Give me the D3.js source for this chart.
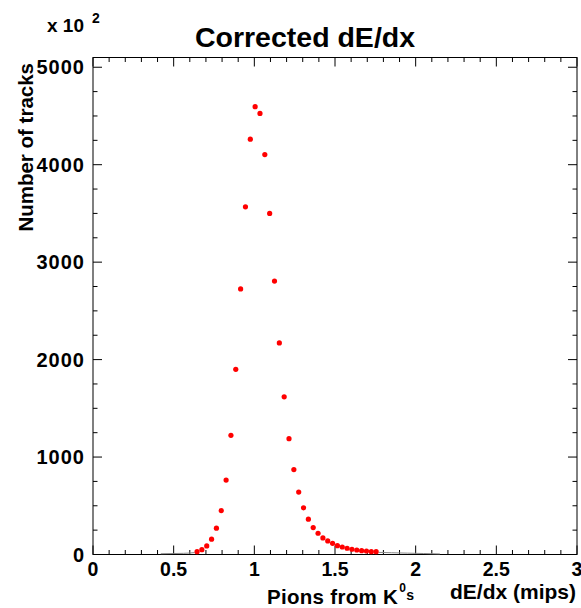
<!DOCTYPE html>
<html>
<head>
<meta charset="utf-8">
<script src="https://cdn.jsdelivr.net/npm/d3@7"></script>
<style>
  body { margin: 0; background: white; }
  text { font-family: "Liberation Sans", Arial, Helvetica, sans-serif; font-weight: bold; fill: black; }
</style>
</head>
<body>
<div id="chart"></div>
<script>
// bin centres (dE/dx, mips) and counts (x 10^2)
const binStart = 0.645;
const binWidth = 0.03;
const counts = [29, 49, 88, 157, 270, 451, 764, 1223, 1900, 2725,
                3568, 4262, 4595, 4526, 4104, 3500, 2806, 2171, 1618, 1189,
                871, 641, 479, 363, 276, 218, 170, 139, 115, 91,
                77, 64, 54, 46, 39, 36, 29, 29];
// faint histogram line in the tails
const tailLeftX = [0.42, 0.5, 0.56, 0.6, 0.63];
const tailLeftY = [8, 10, 12, 15, 20];
const tailRightX = [1.77, 1.85, 1.95, 2.05, 2.15];
const tailRightY = [22, 18, 14, 10, 6];

const xTicks = [0, 0.5, 1, 1.5, 2, 2.5, 3];
const xTickLabels = ["0", "0.5", "1", "1.5", "2", "2.5", "3"];
const yTicks = [0, 1000, 2000, 3000, 4000, 5000];

const W = 581, H = 608;
const pLeft = 93, pRight = 577, pTop = 57.5, pBottom = 554.5;

const svg = d3.select("#chart").append("svg")
    .attr("width", W)
    .attr("height", H);

const x = d3.scaleLinear().domain([0, 3]).range([pLeft, pRight]);
const y = d3.scaleLinear().domain([0, 5100]).range([pBottom, pTop]);

let points = counts.map((c, i) => ({ x: binStart + i * binWidth, y: c }));

// frame
svg.append("rect")
    .attr("x", pLeft).attr("y", pTop)
    .attr("width", pRight - pLeft).attr("height", pBottom - pTop)
    .attr("fill", "none").attr("stroke", "black").attr("stroke-width", 1);

// ticks on all four sides, pointing inward
let xMinor = d3.range(0, 3.0001, 0.1);
let yMinor = d3.range(0, 5001, 250);
const major = 9, minor = 4.5;

let tickG = svg.append("g").attr("stroke", "black").attr("stroke-width", 1);
for (let v of xMinor) {
    let isMajor = Math.abs(v * 2 - Math.round(v * 2)) < 1e-6;
    let len = isMajor ? major : minor;
    let px = x(v);
    tickG.append("line").attr("x1", px).attr("x2", px).attr("y1", pBottom).attr("y2", pBottom - len);
    tickG.append("line").attr("x1", px).attr("x2", px).attr("y1", pTop).attr("y2", pTop + len);
}
for (let v of yMinor) {
    let len = (v % 1000 == 0) ? major : minor;
    let py = y(v);
    tickG.append("line").attr("y1", py).attr("y2", py).attr("x1", pLeft).attr("x2", pLeft + len);
    tickG.append("line").attr("y1", py).attr("y2", py).attr("x1", pRight).attr("x2", pRight - len);
}

// tick labels
svg.append("g").selectAll("text")
    .data(xTicks)
    .enter()
    .append("text")
    .attr("x", d => x(d))
    .attr("y", 576)
    .attr("text-anchor", "middle")
    .style("font-size", "19.5px")
    .text((d, i) => xTickLabels[i]);

svg.append("g").selectAll("text")
    .data(yTicks)
    .enter()
    .append("text")
    .attr("x", 85)
    .attr("y", d => y(d) + 7)
    .attr("text-anchor", "end")
    .style("font-size", "20px")
    .style("letter-spacing", "1px")
    .text(d => d);

// tails
let line = d3.line().x(d => x(d[0])).y(d => y(d[1]));
for (let [xs, ys] of [[tailLeftX, tailLeftY], [tailRightX, tailRightY]]) {
    svg.append("path")
        .attr("d", line(xs.map((v, i) => [v, ys[i]])))
        .attr("fill", "none")
        .attr("stroke", "#888")
        .attr("stroke-width", 1);
}

// markers
svg.append("g").selectAll("circle")
    .data(points)
    .enter()
    .append("circle")
    .attr("cx", d => x(d.x))
    .attr("cy", d => y(d.y))
    .attr("r", 2.6)
    .attr("fill", "red");

// titles
svg.append("text")
    .attr("x", 305).attr("y", 47)
    .attr("text-anchor", "middle")
    .style("font-size", "28.5px")
    .text("Corrected dE/dx");

svg.append("text")
    .attr("transform", "translate(33, 63) rotate(-90)")
    .attr("text-anchor", "end")
    .style("font-size", "20.5px")
    .text("Number of tracks");

svg.append("text")
    .attr("x", 47).attr("y", 31.5)
    .style("font-size", "19px")
    .text("x 10");
svg.append("text")
    .attr("x", 92).attr("y", 22.5)
    .style("font-size", "14px")
    .text("2");

svg.append("text")
    .attr("x", 576).attr("y", 599)
    .attr("text-anchor", "end")
    .style("font-size", "21px")
    .text("dE/dx (mips)");

let pions = svg.append("text")
    .attr("x", 267).attr("y", 604)
    .style("font-size", "20.5px")
    .style("letter-spacing", "0.3px");
pions.append("tspan").text("Pions from K");
pions.append("tspan").attr("dx", 1).attr("dy", -12).style("font-size", "12px").text("0");
pions.append("tspan").attr("dx", 0).attr("dy", 8).style("font-size", "14px").text("s");
</script>
</body>
</html>
